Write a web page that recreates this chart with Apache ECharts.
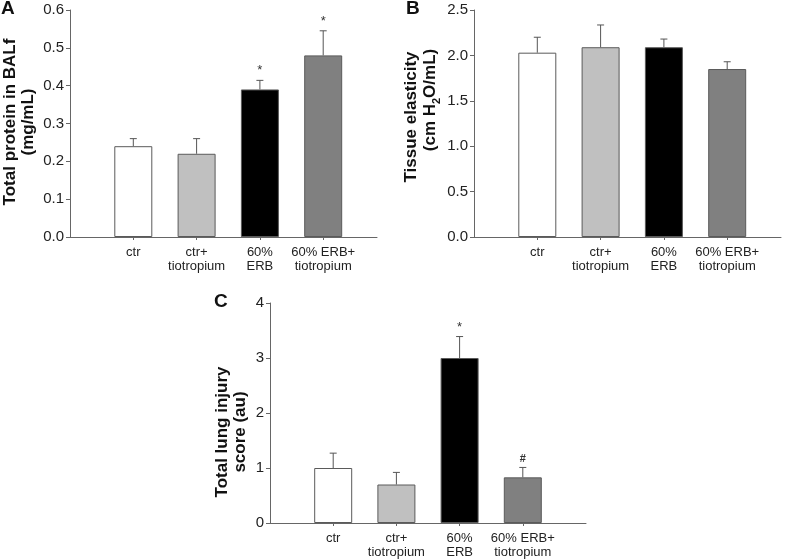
<!DOCTYPE html>
<html>
<head>
<meta charset="utf-8">
<script src="https://cdn.jsdelivr.net/npm/echarts@6/dist/echarts.min.js"></script>
<style>
  html, body { margin: 0; padding: 0; background: #fff; }
  #main { width: 791px; height: 560px; }
</style>
</head>
<body>
<div id="main"></div>
<script>
// groups (same in all three panels)
const categories = ['ctr', 'ctr+\ntiotropium', '60%\nERB', '60% ERB+\ntiotropium'];
const positions = [1, 2, 3, 4];

// A - total protein in BALf (mg/mL), mean and upper end of error bar
const proteinMean = [0.24, 0.22, 0.39, 0.48];
const proteinErr = [0.26, 0.26, 0.414, 0.545];
const proteinMarks = ['', '', '*', '*'];

// B - tissue elasticity (cm H2O/mL)
const elasticityMean = [2.03, 2.09, 2.09, 1.85];
const elasticityErr = [2.2, 2.335, 2.18, 1.93];
const elasticityMarks = ['', '', '', ''];

// C - total lung injury score (au)
const injuryMean = [1.0, 0.7, 3.0, 0.83];
const injuryErr = [1.27, 0.92, 3.39, 1.01];
const injuryMarks = ['', '', '*', '#'];

const barColors = ['#ffffff', '#c0c0c0', '#000000', '#808080'];
const FONT = 'Liberation Sans, Arial, sans-serif';

const chart = echarts.init(document.getElementById('main'));

function xAxisFor(gridIndex, max) {
  return {
    type: 'value', gridIndex, min: 0, max,
    splitLine: { show: false },
    axisLine: { lineStyle: { color: '#666', width: 1 } },
    axisTick: { show: true, customValues: positions, length: 3, lineStyle: { color: '#666' } },
    axisLabel: {
      customValues: positions,
      formatter: v => categories[Math.round(v) - 1] || '',
      color: '#222', fontSize: 13, fontFamily: FONT, lineHeight: 14, margin: 8
    }
  };
}

function yAxisFor(gridIndex, max, interval, digits) {
  return {
    type: 'value', gridIndex, min: 0, max, interval,
    splitLine: { show: false },
    axisLine: { show: true, lineStyle: { color: '#666', width: 1 } },
    axisTick: { show: true, length: 4, lineStyle: { color: '#666' } },
    axisLabel: {
      formatter: v => v.toFixed(digits),
      color: '#222', fontSize: 15, fontFamily: FONT, margin: 6
    }
  };
}

function barSeries(idx, means) {
  return {
    type: 'bar', xAxisIndex: idx, yAxisIndex: idx,
    barWidth: 38,
    data: means.map((v, i) => ({
      value: [positions[i], v],
      itemStyle: { color: barColors[i], borderColor: '#5a5a5a', borderWidth: 1 }
    }))
  };
}

function errorSeries(idx, means, errs, marks) {
  return {
    type: 'custom', xAxisIndex: idx, yAxisIndex: idx, z: 3,
    data: means.map((v, i) => [positions[i], v, errs[i], i]),
    renderItem: (params, api) => {
      const base = api.coord([api.value(0), api.value(1)]);
      const top = api.coord([api.value(0), api.value(2)]);
      const mark = marks[api.value(3)];
      const style = { stroke: '#555', lineWidth: 1 };
      const children = [
        { type: 'line', shape: { x1: base[0], y1: base[1], x2: top[0], y2: top[1] }, style },
        { type: 'line', shape: { x1: top[0] - 3.5, y1: top[1], x2: top[0] + 3.5, y2: top[1] }, style }
      ];
      if (mark) {
        children.push({
          type: 'text',
          style: {
            text: mark, x: top[0], y: top[1] - 3,
            align: 'center', verticalAlign: 'bottom',
            fontSize: mark === '#' ? 11 : 13, fontWeight: mark === '#' ? 'bold' : 'normal',
            fontFamily: FONT, fill: '#333'
          }
        });
      }
      return { type: 'group', children };
    }
  };
}

function titleText(x, y, text, rich) {
  return {
    type: 'text', x, y, rotation: Math.PI / 2,
    style: {
      text, align: 'center', verticalAlign: 'middle',
      fontSize: 17, fontWeight: 'bold', fontFamily: FONT, fill: '#111',
      rich: rich || {}
    }
  };
}

function letter(x, y, text) {
  return {
    type: 'text', x, y,
    style: { text, fontSize: 19, fontWeight: 'bold', fontFamily: FONT, fill: '#111' }
  };
}

const titleRich = {
  m: { fontSize: 17, fontWeight: 'bold', fontFamily: FONT, fill: '#111', lineHeight: 20, verticalAlign: 'top' },
  sub: { fontSize: 11, fontWeight: 'bold', fontFamily: FONT, fill: '#111', lineHeight: 11, verticalAlign: 'bottom', padding: [14, 0, 0, 0] }
};

const option = {
  animation: false,
  backgroundColor: '#fff',
  grid: [
    { left: 70, top: 10, width: 307, height: 227 },
    { left: 474, top: 10, width: 307, height: 227 },
    { left: 270, top: 303, width: 316, height: 220 }
  ],
  xAxis: [xAxisFor(0, 4.85), xAxisFor(1, 4.85), xAxisFor(2, 5)],
  yAxis: [yAxisFor(0, 0.6, 0.1, 1), yAxisFor(1, 2.5, 0.5, 1), yAxisFor(2, 4, 1, 0)],
  series: [
    barSeries(0, proteinMean),
    barSeries(1, elasticityMean),
    barSeries(2, injuryMean),
    errorSeries(0, proteinMean, proteinErr, proteinMarks),
    errorSeries(1, elasticityMean, elasticityErr, elasticityMarks),
    errorSeries(2, injuryMean, injuryErr, injuryMarks)
  ],
  graphic: [
    letter(1, -1, 'A'),
    letter(406, -1, 'B'),
    letter(214, 292, 'C'),
    titleText(10, 122, 'Total protein in BALf'),
    titleText(28, 122, '(mg/mL)'),
    titleText(411, 117, 'Tissue elasticity'),
    titleText(432, 100, '{m|(cm H}{sub|2}{m|O/mL)}', titleRich),
    titleText(222, 432, 'Total lung injury'),
    titleText(240, 432, 'score (au)')
  ]
};

chart.setOption(option);
</script>
</body>
</html>
